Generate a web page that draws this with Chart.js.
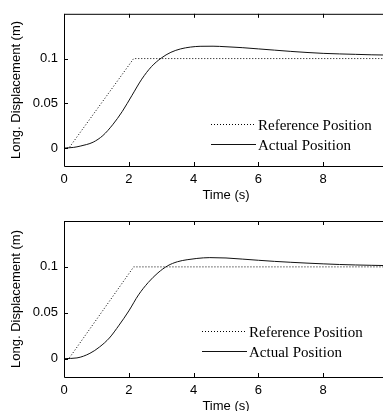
<!DOCTYPE html>
<html>
<head>
<meta charset="utf-8">
<script src="https://cdn.jsdelivr.net/npm/chart.js@4.4.1/dist/chart.umd.min.js"></script>
<style>
  html, body { margin: 0; padding: 0; background: #fff; }
  body { width: 383px; height: 411px; overflow: hidden; position: relative; }
  canvas { position: absolute; left: 0; }
  #chartTop { top: 0; }
  #chartBottom { top: 205px; }
</style>
</head>
<body>
<canvas id="chartTop" width="400" height="205"></canvas>
<canvas id="chartBottom" width="400" height="211"></canvas>
<script>
// ---- data ----
const xTickValues = [0, 2, 4, 6, 8, 10];
const xTickLabels = ['0', '2', '4', '6', '8', ''];   // the "10" is cut off in the original
const yTickValues = [0, 0.05, 0.1];
const yTickLabels = ['0', '0.05', '0.1'];

// reference position (same in both plots)
const refTime = [0, 0.15, 2.15, 10];
const refPos = [0, 0, 0.1, 0.1];

// actual position, upper plot
const topTime = [0, 0.3, 0.5, 0.7, 0.9, 1.2, 1.5, 1.8, 2.1, 2.4, 2.7, 3.0, 3.3, 3.6, 3.9, 4.2, 4.6, 5.0, 5.5, 6.0, 6.5, 7.0, 7.5, 8.0, 8.5, 9.0, 9.5, 10];
const topActual = [0, 0.0008, 0.0022, 0.004, 0.0066, 0.014, 0.026, 0.041, 0.059, 0.077, 0.091, 0.1005, 0.107, 0.1108, 0.1128, 0.1137, 0.1138, 0.1132, 0.1122, 0.1108, 0.1094, 0.108, 0.1068, 0.1058, 0.1052, 0.1047, 0.1042, 0.1039];

// actual position, lower plot
const botTime = [0, 0.4, 0.8, 1.1, 1.4, 1.7, 2.0, 2.3, 2.6, 2.9, 3.2, 3.5, 3.8, 4.1, 4.5, 5.0, 5.5, 6.0, 6.5, 7.0, 7.5, 8.0, 8.5, 9.0, 9.5, 10];
const botActual = [0, 0.0008, 0.0058, 0.0128, 0.0225, 0.0365, 0.052, 0.0695, 0.083, 0.0935, 0.1012, 0.1056, 0.1078, 0.1092, 0.1101, 0.1097, 0.1085, 0.1072, 0.106, 0.105, 0.1041, 0.1033, 0.1026, 0.1021, 0.1017, 0.1014];

const seriesLabels = ['Reference Position', 'Actual Position'];

function toPoints(xs, ys) {
    return xs.map((x, i) => ({ x: x, y: ys[i] }));
}

// box, inward ticks and the legend, drawn the way the original plot looks
const matlabAxes = {
    id: 'matlabAxes',
    afterDatasetsDraw(chart, args, opts) {
        const { ctx, chartArea: a, scales } = chart;
        ctx.save();
        ctx.strokeStyle = '#000';
        ctx.lineWidth = 1;
        ctx.beginPath();
        ctx.rect(a.left + 0.5, a.top + 0.5, a.right - a.left, a.bottom - a.top);
        scales.x.ticks.forEach(t => {
            const px = Math.round(scales.x.getPixelForValue(t.value)) + 0.5;
            ctx.moveTo(px, a.bottom); ctx.lineTo(px, a.bottom - 4);
            ctx.moveTo(px, a.top); ctx.lineTo(px, a.top + 4);
        });
        scales.y.ticks.forEach(t => {
            const py = Math.round(scales.y.getPixelForValue(t.value)) + 0.5;
            ctx.moveTo(a.left, py); ctx.lineTo(a.left + 4, py);
            ctx.moveTo(a.right, py); ctx.lineTo(a.right - 4, py);
        });
        ctx.stroke();

        // legend (box off)
        ctx.font = '15px "Liberation Serif", "Times New Roman", serif';
        ctx.fillStyle = '#000';
        ctx.textAlign = 'left';
        ctx.textBaseline = 'alphabetic';
        chart.data.datasets.forEach((ds, i) => {
            const ly = opts.y + i * 20 + 0.5;
            ctx.beginPath();
            ctx.setLineDash(ds.borderDash || []);
            ctx.strokeStyle = ds.borderColor;
            ctx.moveTo(opts.x, ly);
            ctx.lineTo(opts.x + 45, ly);
            ctx.stroke();
            ctx.setLineDash([]);
            ctx.fillText(ds.label, opts.x + 47, ly + 5.5);
        });
        ctx.restore();
    }
};

function makeChart(id, actualTime, actualPos, topPad, chartBottom, canvasH, legendPos) {
    return new Chart(document.getElementById(id), {
        type: 'line',
        data: {
            datasets: [{
                label: seriesLabels[0],
                data: toPoints(refTime, refPos),
                borderColor: '#000',
                borderWidth: 1,
                borderDash: [1, 2],
                pointRadius: 0,
                tension: 0
            }, {
                label: seriesLabels[1],
                data: toPoints(actualTime, actualPos),
                borderColor: '#111',
                borderWidth: 1,
                pointRadius: 0,
                cubicInterpolationMode: 'monotone'
            }]
        },
        options: {
            responsive: false,
            animation: false,
            events: [],
            layout: { padding: { top: topPad, right: 12, bottom: 0, left: 0 } },
            plugins: {
                legend: { display: false },
                tooltip: { enabled: false },
                matlabAxes: legendPos
            },
            scales: {
                x: {
                    type: 'linear',
                    min: 0,
                    max: 10,
                    afterBuildTicks: s => { s.ticks = xTickValues.map(v => ({ value: v })); },
                    afterFit: s => { s.height = canvasH - chartBottom; },
                    grid: { display: false, drawTicks: false },
                    border: { display: false },
                    ticks: {
                        padding: 6,
                        color: '#000',
                        font: { family: '"Liberation Sans", Arial, sans-serif', size: 13 },
                        maxRotation: 0,
                        callback: (v, i) => xTickLabels[i]
                    },
                    title: {
                        display: true,
                        text: 'Time (s)',
                        color: '#000',
                        padding: { top: 0, bottom: 2 },
                        font: { family: '"Liberation Sans", Arial, sans-serif', size: 13 }
                    }
                },
                y: {
                    min: -0.02,
                    max: 0.15,
                    afterBuildTicks: s => { s.ticks = yTickValues.map(v => ({ value: v })); },
                    afterFit: s => { s.width = 64; },
                    grid: { display: false, drawTicks: false },
                    border: { display: false },
                    ticks: {
                        padding: 6,
                        color: '#000',
                        font: { family: '"Liberation Sans", Arial, sans-serif', size: 13 },
                        callback: (v, i) => yTickLabels[i]
                    },
                    title: {
                        display: true,
                        text: 'Long. Displacement (m)',
                        color: '#000',
                        padding: { top: 9, bottom: 0 },
                        font: { family: '"Liberation Sans", Arial, sans-serif', size: 13 }
                    }
                }
            }
        },
        plugins: [matlabAxes]
    });
}

makeChart('chartTop', topTime, topActual, 10, 166, 205, { x: 211, y: 124 });
makeChart('chartBottom', botTime, botActual, 16, 172, 211, { x: 202, y: 126 });
</script>
</body>
</html>
